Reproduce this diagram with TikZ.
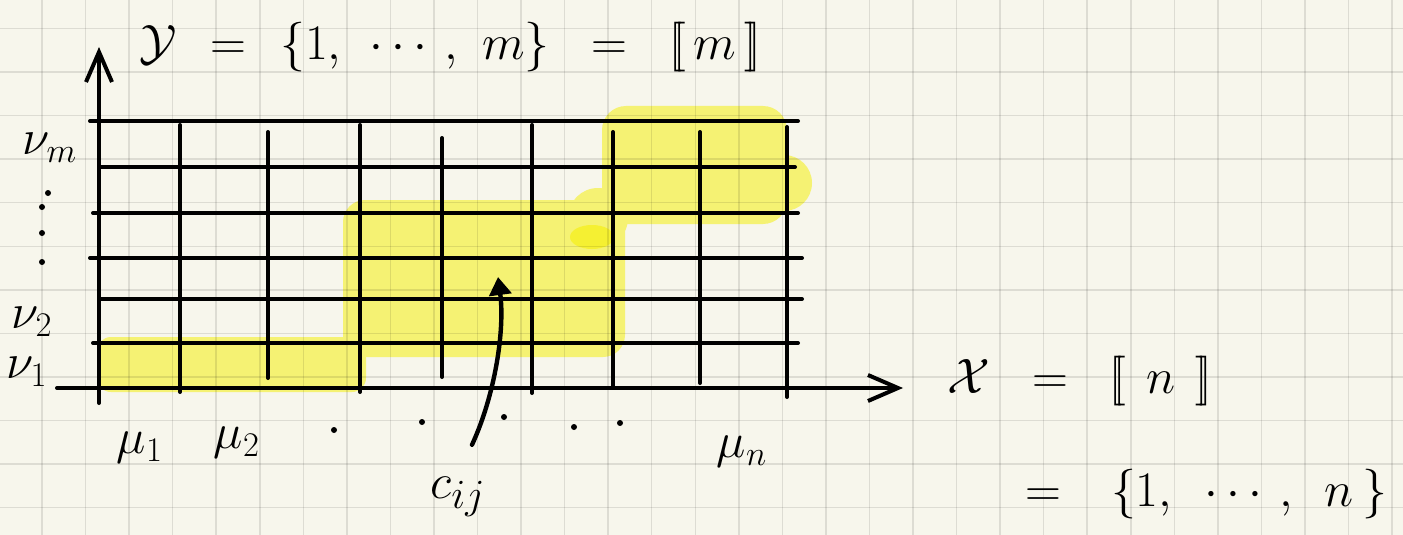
\documentclass[tikz,border=0pt]{standalone}
\usepackage{amsmath,amssymb}
\usetikzlibrary{arrows.meta,calc}
\definecolor{paperCol}{RGB}{247,246,236}
\definecolor{hiCol}{RGB}{245,242,115}
\definecolor{hiDeep}{RGB}{245,240,50}
\tikzset{
  gridln/.style={line width=2pt,line cap=round},
  axis/.style={gridln,-{Straight Barb[length=15pt,width=13pt]}},
  hilite/.style={fill=hiCol,draw=none},
  rule/.style={draw=black,draw opacity=0.1,line width=0.75pt},
  pointer/.style={line width=2.2pt,line cap=round,-{Triangle[length=9pt,width=11pt]}},
  lab/.style={inner sep=0pt,font=\fontsize{24}{28}\selectfont},
  big/.style={inner sep=0pt,font=\fontsize{34}{40}\selectfont},
}

\begin{document}
\begin{tikzpicture}[x=0.5pt,y=-0.5pt]
  \fill[paperCol] (0,0) rectangle (1403,535);
  \useasboundingbox (0,0) rectangle (1403,535);

  \fill[hilite,rounded corners=7pt] (97,337) rectangle (366,392);
  \fill[hilite,rounded corners=11pt] (343,200) rectangle (625,357);
  \fill[hilite] (598,218) circle (15pt);
  \fill[hilite,rounded corners=12pt] (602,106) rectangle (787,224);
  \fill[hilite] (784,183) circle (14pt);
  \fill[hiDeep] (592,237) ellipse (11pt and 6pt);

  \foreach \k in {0,...,31} \draw[rule] ({42+43.55*\k},0) -- ({42+43.55*\k},535);
  \foreach \k in {0,...,11} \draw[rule] (0,{28.5+43.55*\k}) -- (1403,{28.5+43.55*\k});

  \coordinate (ybot) at (99,403);
  \coordinate (ytop) at (99,47);
  \coordinate (xleft) at (57,388);
  \coordinate (xright) at (903,388);
  \draw[axis] (ybot) -- (ytop);
  \draw[axis] (xleft) -- (xright);
  \foreach \y/\a/\b in {121/90/798,167/99/795,213/93/798,258/90/802,299/99/802,343/93/798}
    \draw[gridln] (\a,\y) -- (\b,\y);
  \foreach \x/\a/\b in {180/125/392,268/132/378,360/125/392,442/138/377,532/125/393,613/132/387,700/132/383,787/127/397}
    \draw[gridln] (\x,\a) -- (\x,\b);

  \node[big,anchor=base west] (ylab) at (139,60)
    {$\mathcal{Y}\hspace{10pt}=\hspace{10pt}\{1,\hspace{10pt}\cdots,\hspace{8pt}m\}\hspace{14pt}=\hspace{14pt}[\![\hspace{4pt}m\hspace{4pt}]\!]$};
  \node[big,anchor=base west] (xlab) at (947,393)
    {$\mathcal{X}\hspace{14pt}=\hspace{14pt}[\![\hspace{10pt}n\hspace{10pt}]\!]$};
  \node[big,anchor=base west] (xset) at (1025,506)
    {$=\hspace{18pt}\{1,\hspace{12pt}\cdots,\hspace{12pt}n\hspace{4pt}\}$};

  \node[lab] (mu1) at (140,448) {$\mu_1$};
  \node[lab] (mu2) at (237,443) {$\mu_2$};
  \node[lab] (mun) at (742,452) {$\mu_n$};
  \node[lab] (num) at (50,148) {$\nu_m$};
  \node[lab] (nu2) at (32,322) {$\nu_2$};
  \node[lab] (nu1) at (27,372) {$\nu_1$};
  \foreach \x/\y in {334/430,422/422,504/417,574/427,620/423,48/193,42/207,42/233,42/262}
    \fill (\x,\y) circle (1.5pt);

  \node[inner sep=0pt,font=\fontsize{32}{38}\selectfont] (cij) at (458,497) {$c_{ij}$};
  \coordinate (cell) at (498,277);
  \draw[pointer] ($(cij.north)+(14,-32)$) .. controls (495,395) and (505,330) .. (cell);
\end{tikzpicture}
\end{document}
